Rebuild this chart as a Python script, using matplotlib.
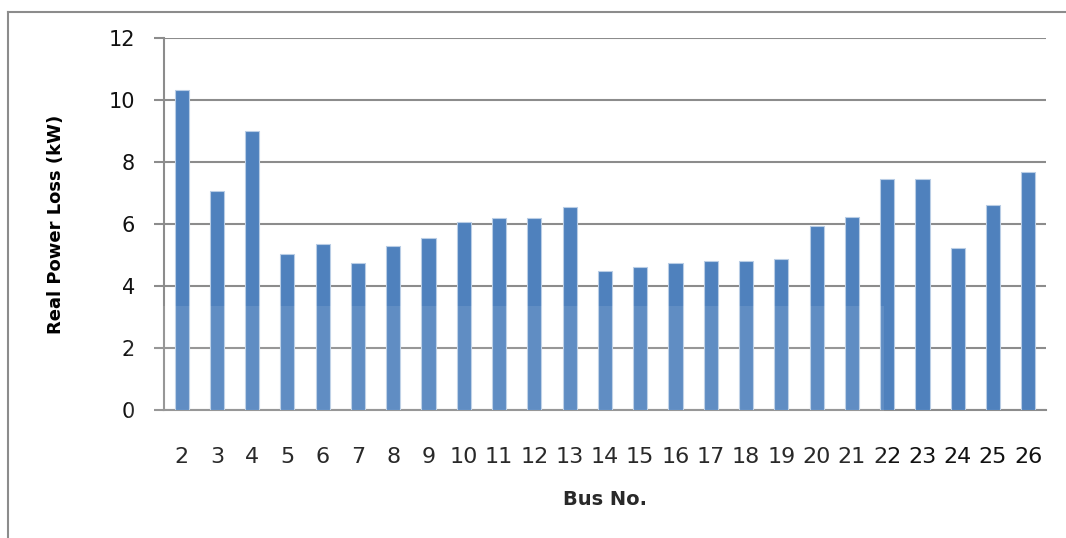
import numpy as np
import matplotlib.pyplot as plt
from matplotlib.patches import Rectangle
from matplotlib.lines import Line2D

# real power loss at each bus
buses = [str(b) for b in range(2, 27)]
loss_kw = [10.31, 7.07, 8.99, 5.05, 5.35, 4.75, 5.28, 5.54, 6.07, 6.19,
           6.19, 6.54, 4.49, 4.63, 4.75, 4.81, 4.81, 4.88, 5.94, 6.24,
           7.44, 7.44, 5.23, 6.60, 7.68]
y_ticks = [0, 2, 4, 6, 8, 10, 12]

plt.rcParams['font.family'] = 'DejaVu Sans'

fig = plt.figure(figsize=(10.66, 5.38), dpi=100)
ax = fig.add_axes([0.1538, 0.237, 0.8274, 0.693])

x = np.arange(len(buses))
ax.bar(x, loss_kw, width=0.4, color='#4F81BD', edgecolor='#B9CDE5',
       linewidth=0.8, zorder=3)

ax.set_xlim(-0.5, len(buses) - 0.5)
ax.set_ylim(0, 12)
ax.set_yticks(y_ticks)
ax.set_xticks(x)
ax.set_xticklabels(buses)

ax.yaxis.grid(True, color='#8C8C8C', linewidth=1.5, zorder=0)
ax.set_axisbelow(True)
for side in ['top', 'right']:
    ax.spines[side].set_visible(False)
for side in ['left', 'bottom']:
    ax.spines[side].set_color('#8C8C8C')
    ax.spines[side].set_linewidth(1.5)

ax.tick_params(axis='y', length=7, width=1.5, color='#8C8C8C', pad=14,
               labelsize=15, labelcolor='#111111')
ax.tick_params(axis='x', length=0, pad=26, labelsize=16, labelcolor='#111111')

ax.set_ylabel('Real Power Loss (kW)', fontsize=13, fontweight='bold')
ax.yaxis.set_label_coords(-0.112, 0.5)
ax.set_xlabel('Bus No.', fontsize=14, fontweight='bold', color='#111111')
ax.xaxis.set_label_coords(0.5, -0.213)

# chart area border (left and top edges)
fig.add_artist(Line2D([8 / 1066, 8 / 1066], [0, 1 - 11.5 / 538],
                      transform=fig.transFigure, color='#8C8C8C', lw=1.5))
fig.add_artist(Line2D([8 / 1066, 1], [1 - 11.5 / 538, 1 - 11.5 / 538],
                      transform=fig.transFigure, color='#8C8C8C', lw=1.5))

# faint light band over the lower part of the page
fig.add_artist(Rectangle((128 / 1066, 0), (884 - 128) / 1066, (538 - 306) / 538,
                         transform=fig.transFigure, facecolor='white',
                         alpha=0.1, edgecolor='none', zorder=5))

fig.savefig('out.png', dpi=100)
